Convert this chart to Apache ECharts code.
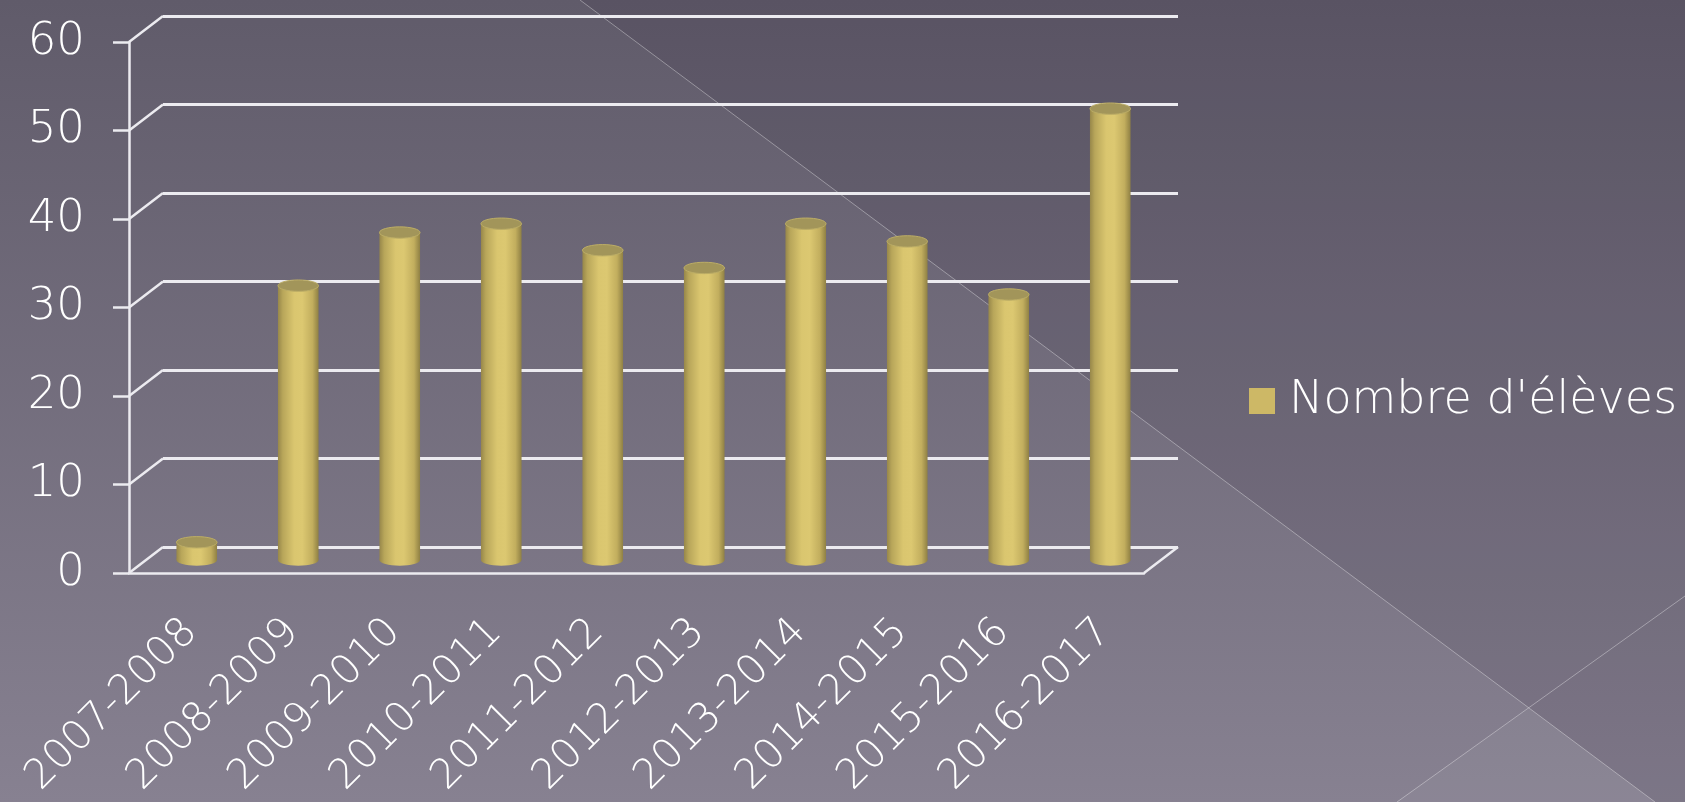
<!DOCTYPE html>
<html lang="fr">
<head>
    <meta charset="UTF-8">
    <title>Nombre d'élèves</title>
    <script src="https://cdn.jsdelivr.net/npm/echarts@6/dist/echarts.min.js"></script>
</head>
<style>
    html, body { margin: 0; padding: 0; }
    #container { width: 1685px; height: 802px; }
</style>
<body>
<div id="container"></div>
<script>
    // données
    var annees = ['2007-2008', '2008-2009', '2009-2010', '2010-2011', '2011-2012',
                  '2012-2013', '2013-2014', '2014-2015', '2015-2016', '2016-2017'];
    var eleves = [2, 31, 37, 38, 35, 33, 38, 36, 30, 51];
    var graduations = [0, 10, 20, 30, 40, 50, 60];
    var nomSerie = "Nombre d'élèves";

    // profondeur de la pseudo 3D
    var DX = 34, DY = 26;
    var FONT = 'DejaVu Sans';
    var WHITE = '#ecebf0';

    var chart = echarts.init(document.getElementById('container'));

    function cylindre(params, api)
    {
        var i = api.value(0);
        var v = api.value(1);
        var base = api.coord([i, 0]);
        var haut = api.coord([i, v]);
        var w = api.size([1, 0])[0] * 0.4;
        var cx = base[0] + DX / 2;
        var yb = base[1] - DY / 2;
        var yt = haut[1] - DY / 2;
        var ry = w * 0.14;
        var corps = new echarts.graphic.LinearGradient(0, 0, 1, 0, [
            { offset: 0, color: '#97874a' },
            { offset: 0.12, color: '#b8a65a' },
            { offset: 0.4, color: '#dac66f' },
            { offset: 0.6, color: '#dcc871' },
            { offset: 0.85, color: '#c2ae5e' },
            { offset: 1, color: '#8f8044' }
        ]);
        return {
            type: 'group',
            children: [
                {
                    type: 'ellipse',
                    shape: { cx: cx, cy: yb, rx: w / 2, ry: ry },
                    style: { fill: corps }
                },
                {
                    type: 'rect',
                    shape: { x: cx - w / 2, y: yt, width: w, height: yb - yt },
                    style: { fill: corps }
                },
                {
                    type: 'ellipse',
                    shape: { cx: cx, cy: yt, rx: w / 2, ry: ry },
                    style: { fill: '#a2955a', stroke: '#bcad66', lineWidth: 1 }
                }
            ]
        };
    }

    function paroi(params, api)
    {
        var v = api.value(0);
        var cs = params.coordSys;
        var p = api.coord([0, v]);
        var style = { stroke: WHITE, lineWidth: 2.5 };
        var enfants = [{
            type: 'line',
            shape: { x1: cs.x, y1: p[1], x2: cs.x + DX, y2: p[1] - DY },
            style: style
        }];
        if (v === 0)
        {
            enfants.push({
                type: 'line',
                shape: { x1: cs.x + cs.width, y1: p[1], x2: cs.x + cs.width + DX, y2: p[1] - DY },
                style: style
            });
        }
        return { type: 'group', children: enfants };
    }

    var option = {
        animation: false,
        graphic: [
            {
                type: 'rect', z: -10, silent: true,
                shape: { x: 0, y: 0, width: 1685, height: 802 },
                style: {
                    fill: new echarts.graphic.LinearGradient(0, 0, 0, 1, [
                        { offset: 0, color: '#605b6a' },
                        { offset: 1, color: '#878191' }
                    ])
                }
            },
            {
                type: 'polygon', z: -9, silent: true,
                shape: { points: [[580, 0], [1685, 0], [1685, 802], [1655, 802]] },
                style: { fill: 'rgba(20,15,35,0.09)' }
            },
            {
                type: 'polygon', z: -9, silent: true,
                shape: { points: [[1397, 802], [1529, 708], [1655, 802]] },
                style: { fill: 'rgba(255,255,255,0.04)' }
            },
            {
                type: 'line', z: -8, silent: true,
                shape: { x1: 580, y1: 0, x2: 1655, y2: 802 },
                style: { stroke: 'rgba(255,255,255,0.35)', lineWidth: 1 }
            },
            {
                type: 'line', z: -8, silent: true,
                shape: { x1: 1397, y1: 802, x2: 1685, y2: 596 },
                style: { stroke: 'rgba(255,255,255,0.35)', lineWidth: 1 }
            }
        ],
        legend: {
            data: [nomSerie],
            left: 1249,
            top: 376,
            padding: 0,
            icon: 'rect',
            itemWidth: 26,
            itemHeight: 26,
            textStyle: {
                color: '#ffffff',
                fontFamily: FONT,
                fontWeight: 200,
                fontSize: 46,
                lineHeight: 50,
                padding: [0, 0, 0, 9]
            }
        },
        grid: [
            { left: 129, top: 42, width: 1015, height: 531, outerBoundsMode: 'none', containLabel: false },
            { left: 163, top: 16, width: 1015, height: 531, outerBoundsMode: 'none', containLabel: false }
        ],
        xAxis: [
            {
                type: 'category',
                gridIndex: 0,
                data: annees,
                axisLine: { lineStyle: { color: WHITE, width: 2.5 } },
                axisTick: { length: 15, lineStyle: { color: WHITE, width: 2.5 } },
                axisLabel: {
                    interval: 0,
                    rotate: 45,
                    margin: 64,
                    padding: [0, -16, 0, 0],
                    color: '#ffffff',
                    fontFamily: FONT,
                    fontWeight: 200,
                    fontSize: 41
                }
            },
            {
                type: 'category',
                gridIndex: 1,
                data: annees,
                show: false
            }
        ],
        yAxis: [
            {
                type: 'value',
                gridIndex: 0,
                min: 0,
                max: 60,
                interval: 10,
                axisLine: { show: true, lineStyle: { color: WHITE, width: 2.5 } },
                axisTick: { show: true, length: 16, lineStyle: { color: WHITE, width: 2.5 } },
                splitLine: { show: false },
                axisLabel: {
                    margin: 44,
                    color: '#ffffff',
                    fontFamily: FONT,
                    fontWeight: 200,
                    fontSize: 45
                }
            },
            {
                type: 'value',
                gridIndex: 1,
                min: 0,
                max: 60,
                interval: 10,
                axisLine: { show: false },
                axisTick: { show: false },
                axisLabel: { show: false },
                splitLine: { show: true, lineStyle: { color: WHITE, width: 3 } }
            }
        ],
        series: [
            {
                name: 'parois',
                type: 'custom',
                xAxisIndex: 0,
                yAxisIndex: 0,
                silent: true,
                renderItem: paroi,
                encode: { y: 0 },
                data: graduations.map(function (g) { return [g]; }),
                z: 1
            },
            {
                name: nomSerie,
                type: 'custom',
                xAxisIndex: 0,
                yAxisIndex: 0,
                itemStyle: { color: '#cdb866' },
                renderItem: cylindre,
                encode: { x: 0, y: 1 },
                data: eleves.map(function (v, i) { return [i, v]; }),
                z: 5
            }
        ]
    };

    chart.setOption(option);
</script>
</body>
</html>
